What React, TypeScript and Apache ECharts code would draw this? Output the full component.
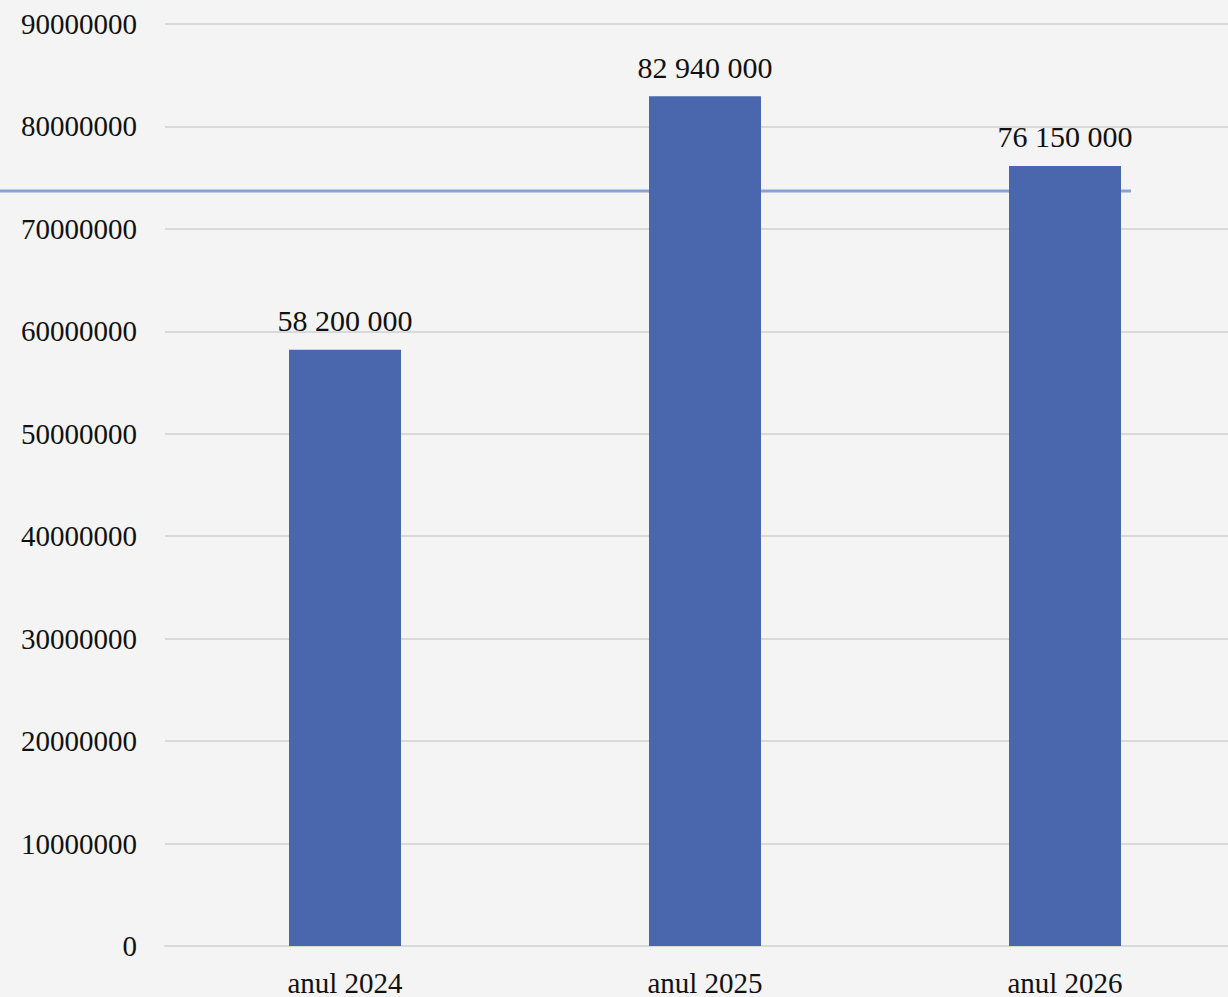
import React, { useEffect, useRef } from "react";
import * as echarts from "echarts";

const categories = ["anul 2024", "anul 2025", "anul 2026"];
const values = [58200000, 82940000, 76150000];
const yTicks = { min: 0, max: 90000000, interval: 10000000 };

const fmt = (v: number) => String(Math.round(v)).replace(/\B(?=(\d{3})+(?!\d))/g, " ");

export default function App() {
  const ref = useRef<HTMLDivElement>(null);
  useEffect(() => {
    if (!ref.current) return;
    const chart = echarts.init(ref.current, undefined, { renderer: "svg" });
    const font = "'Liberation Serif', 'DejaVu Serif', serif";
    chart.setOption({
      animation: false,
      backgroundColor: "#f4f4f4",
      grid: { left: 165, right: 0, top: 24, bottom: 50, containLabel: false },
      xAxis: {
        type: "category",
        data: categories,
        axisLine: { show: true, lineStyle: { color: "#d9d9d9", width: 2 } },
        axisTick: { show: false },
        axisLabel: { color: "#111", fontFamily: font, fontSize: 29, margin: 22 },
      },
      yAxis: {
        type: "value",
        min: yTicks.min,
        max: yTicks.max,
        interval: yTicks.interval,
        axisLine: { show: false },
        axisTick: { show: false },
        splitLine: { lineStyle: { color: "#d9d9d9", width: 2 } },
        axisLabel: {
          color: "#111",
          fontFamily: font,
          fontSize: 29,
          margin: 28,
          formatter: (v: number) => String(v),
        },
      },
      series: [
        {
          type: "bar",
          z: 10,
          data: values,
          barWidth: 112,
          itemStyle: { color: "#4a66ad" },
          label: {
            show: true,
            position: "top",
            distance: 14,
            color: "#111",
            fontFamily: font,
            fontSize: 30,
            formatter: (p: any) => fmt(p.value),
          },
        },
      ],
      graphic: {
        z: 1,
        elements: [
          {
            type: "line",
            shape: { x1: 0, y1: 191, x2: 1131, y2: 191 },
            style: { stroke: "#8aa0d6", lineWidth: 3 },
          },
        ],
      },
    });
    return () => chart.dispose();
  }, []);
  return (
    <div
      style={{
        position: "absolute",
        left: 0,
        top: 0,
        width: 1228,
        height: 997,
        overflow: "hidden",
        background: "#f4f4f4",
      }}
    >
      <div ref={ref} style={{ width: 1245, height: 997 }} />
    </div>
  );
}
